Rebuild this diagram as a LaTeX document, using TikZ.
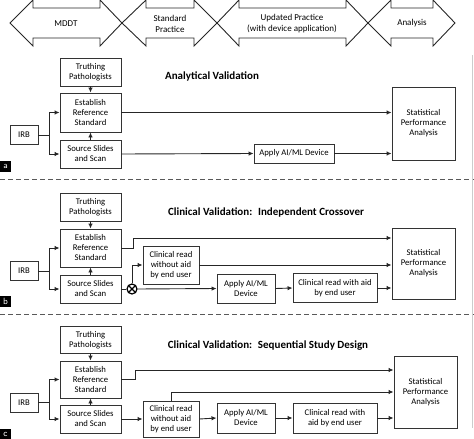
\documentclass[tikz,border=0pt]{standalone}
\usepackage{fontspec}
\setmainfont{Carlito}
\usetikzlibrary{arrows.meta,calc}
\begin{document}
\begin{tikzpicture}[x=1pt,y=-1pt,
  box/.style={draw=black!80, line width=0.9pt, fill=white, align=center,
    font=\fontsize{8.7}{10}\selectfont, inner sep=1pt},
  arr/.style={draw=black!85, line width=0.9pt, -{Latex[length=5pt,width=4.5pt]}},
  ln/.style={draw=black!85, line width=0.9pt},
  ttl/.style={font=\fontsize{11}{13}\selectfont\bfseries},
  band/.style={draw=black!85, line width=0.9pt},
  bandtxt/.style={align=center, font=\fontsize{9}{11}\selectfont},
  lab/.style={fill=black, text=white, minimum size=11pt, inner sep=0pt,
    font=\fontsize{9}{9}\selectfont\sffamily},
  sep/.style={draw=black!65, line width=0.8pt, dash pattern=on 5pt off 3pt},
  xcirc/.style={circle, draw=black, line width=1.2pt, minimum size=10pt, inner sep=0pt,
    path picture={\draw[line width=1.1pt] (path picture bounding box.north west) -- (path picture bounding box.south east)
      (path picture bounding box.north east) -- (path picture bounding box.south west);}}
]
\useasboundingbox (0,0) rectangle (474,439);

% ---------- top band ----------
\def\bandarrow#1#2#3#4{%
  \draw[band] (#1,23) -- (#2,0) -- (#2,8) -- (#3,8) -- (#3,0) -- (#4,23)
    -- (#3,46) -- (#3,38) -- (#2,38) -- (#2,46) -- cycle;}
\bandarrow{10}{33}{100}{122}
\bandarrow{122}{146}{194}{217}
\bandarrow{217}{239}{346}{368}
\bandarrow{368}{391}{433}{455}
\node[bandtxt] (tmddt) at (66,23.5) {MDDT};
\node[bandtxt] (tstd) at (170,23.5) {Standard\\Practice};
\node[bandtxt] (tupd) at (292,23.5) {Updated Practice\\(with device application)};
\node[bandtxt] (tana) at (412,23) {Analysis};

% ---------- section a ----------
\node[ttl] (titlea) at (212,76) {Analytical Validation};
\node[box, minimum width=61pt, minimum height=28pt] (trua) at (90.5,72) {Truthing\\Pathologists};
\node[box, minimum width=61pt, minimum height=39pt] (esta) at (90.5,112.5) {Establish\\Reference\\Standard};
\node[box, minimum width=61pt, minimum height=28pt] (srca) at (90.5,154) {Source Slides\\and Scan};
\node[box, minimum width=28pt, minimum height=19pt] (irba) at (24,135) {IRB};
\node[box, minimum width=80pt, minimum height=19pt] (appa) at (294,153.5) {Apply AI/ML Device};
\node[box, minimum width=63pt, minimum height=73pt] (stata) at (423.5,123.5) {Statistical\\Performance\\Analysis};
\coordinate (ja) at (49,135);
\draw[ln] (irba.east) -- (ja);
\draw[arr] (ja) |- (esta.west);
\draw[arr] (ja) |- (srca.west);
\draw[arr] (trua.south) -- (esta.north);
\draw[arr] (srca.north) -- (esta.south);
\draw[arr] (esta.east) -- (esta.east -| stata.west);
\draw[arr] (srca.east) -- (appa.west);
\draw[arr] (appa.east) -- (appa.east -| stata.west);
\node[lab] (laba) at (5.5,166) {a};

\draw[sep] (0,179) -- (474,179);

% ---------- section b ----------
\node[ttl] (titleb) at (266,212) {Clinical Validation: \ Independent Crossover};
\node[box, minimum width=61pt, minimum height=28pt] (trub) at (90.5,207) {Truthing\\Pathologists};
\node[box, minimum width=61pt, minimum height=38pt] (estb) at (90.5,248) {Establish\\Reference\\Standard};
\node[box, minimum width=61pt, minimum height=28pt] (srcb) at (90.5,289) {Source Slides\\and Scan};
\node[box, minimum width=28pt, minimum height=19pt] (irbb) at (24,271) {IRB};
\node[xcirc] (cxb) at (132,289) {};
\node[box, minimum width=56pt, minimum height=38pt] (clinb) at (171,265) {Clinical read\\without aid\\by end user};
\node[box, minimum width=58pt, minimum height=29pt] (appb) at (246,288.5) {Apply AI/ML\\Device};
\node[box, minimum width=84pt, minimum height=29pt] (aidb) at (335,288) {Clinical read with aid\\by end user};
\node[box, minimum width=63pt, minimum height=71pt] (statb) at (423.5,263.5) {Statistical\\Performance\\Analysis};
\coordinate (jb) at (49,271);
\coordinate (eb) at (133,238);
\draw[ln] (irbb.east) -- (jb);
\draw[arr] (jb) |- (estb.west);
\draw[arr] (jb) |- (srcb.west);
\draw[arr] (trub.south) -- (estb.north);
\draw[arr] (srcb.north) -- (estb.south);
\draw[arr] (estb.east) -| (eb) -- (eb -| statb.west);
\draw[ln] (srcb.east) -- (cxb.west);
\draw[arr] (cxb.north) |- (clinb.west);
\draw[arr] (cxb.east) -- (appb.west);
\draw[arr] (clinb.east) -- (clinb.east -| statb.west);
\draw[arr] (appb.east) -- (aidb.west);
\draw[arr] (aidb.east) -- (aidb.east -| statb.west);
\node[lab] (labb) at (5.5,301) {b};

\draw[sep] (0,314) -- (474,314);

% ---------- section c ----------
\node[ttl] (titlec) at (268,346) {Clinical Validation: \ Sequential Study Design};
\node[box, minimum width=61pt, minimum height=27pt] (truc) at (90.5,340) {Truthing\\Pathologists};
\node[box, minimum width=61pt, minimum height=37pt] (estc) at (90.5,379.5) {Establish\\Reference\\Standard};
\node[box, minimum width=61pt, minimum height=28pt] (srcc) at (90.5,419) {Source Slides\\and Scan};
\node[box, minimum width=28pt, minimum height=19pt] (irbc) at (24,402.5) {IRB};
\node[box, minimum width=56pt, minimum height=36pt] (clinc) at (171,419) {Clinical read\\without aid\\by end user};
\node[box, minimum width=58pt, minimum height=30pt] (appc) at (246,418) {Apply AI/ML\\Device};
\node[box, minimum width=84pt, minimum height=30pt] (aidc) at (335,418) {Clinical read with\\aid by end user};
\node[box, minimum width=63pt, minimum height=72pt] (statc) at (425.5,392) {Statistical\\Performance\\Analysis};
\coordinate (jc) at (49,402.5);
\coordinate (ec) at (135,370);
\draw[ln] (irbc.east) -- (jc);
\draw[arr] (jc) |- (estc.west);
\draw[arr] (jc) |- (srcc.west);
\draw[arr] (truc.south) -- (estc.north);
\draw[arr] (srcc.north) -- (estc.south);
\draw[arr] (estc.east) -| (ec) -- (ec -| statc.west);
\draw[arr] (clinc.north) |- (statc.west);
\draw[arr] (srcc.east) -- (clinc.west);
\draw[arr] (clinc.east) -- (appc.west);
\draw[arr] (appc.east) -- (aidc.west);
\draw[arr] (aidc.east) -- (aidc.east -| statc.west);
\node[lab] (labc) at (5.5,434) {c};

% faint right edge
\draw[black!20, line width=0.6pt] (472.5,55) -- (472.5,428);
\end{tikzpicture}
\end{document}
